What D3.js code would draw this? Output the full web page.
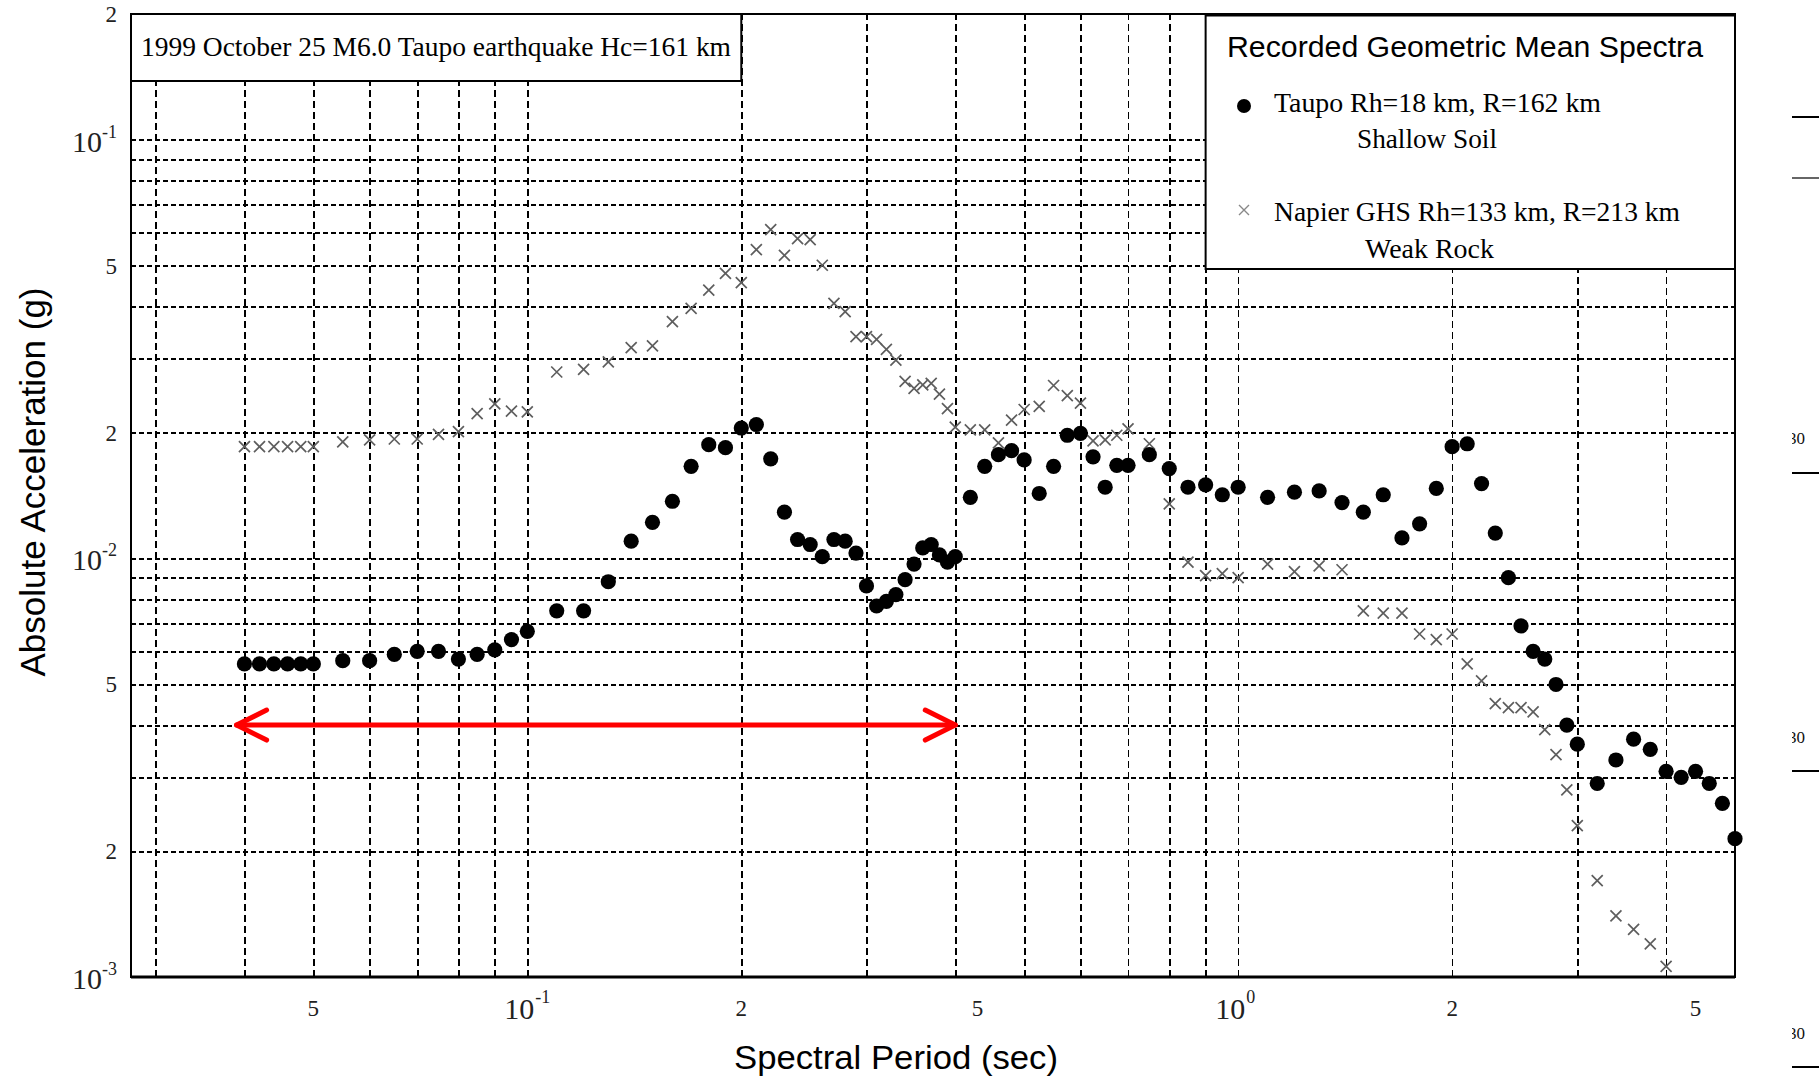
<!DOCTYPE html>
<html>
<head>
<meta charset="utf-8">
<script src="https://cdn.jsdelivr.net/npm/d3@7"></script>
<style>
  body { margin: 0; background: #fff; }
  svg { display: block; }
</style>
</head>
<body>
<svg id="chart" width="1819" height="1081"></svg>
<script>
// Spectral periods (s) shared by both records
const periods = [
  0.04, 0.042, 0.044, 0.046, 0.048, 0.05, 0.055, 0.06, 0.065, 0.07, 0.075, 0.08, 0.085, 0.09, 0.095, 0.1,
  0.11, 0.12, 0.13, 0.14, 0.15, 0.16, 0.17, 0.18, 0.19, 0.2,
  0.21, 0.22, 0.23, 0.24, 0.25, 0.26, 0.27, 0.28, 0.29, 0.3,
  0.31, 0.32, 0.33, 0.34, 0.35, 0.36, 0.37, 0.38, 0.39, 0.4,
  0.42, 0.44, 0.46, 0.48, 0.5,
  0.525, 0.55, 0.575, 0.6, 0.625, 0.65, 0.675, 0.7,
  0.75, 0.8, 0.85, 0.9, 0.95, 1.0,
  1.1, 1.2, 1.3, 1.4, 1.5, 1.6, 1.7, 1.8, 1.9, 2.0,
  2.1, 2.2, 2.3, 2.4, 2.5, 2.6, 2.7, 2.8, 2.9, 3.0,
  3.2, 3.4, 3.6, 3.8, 4.0, 4.2, 4.4, 4.6, 4.8, 5.0
];

// Taupo (shallow soil) geometric-mean spectral acceleration (g)
const taupoAccel = [
  0.0056, 0.0056, 0.0056, 0.0056, 0.0056, 0.0056, 0.0057, 0.0057, 0.0059, 0.0060, 0.0060, 0.00575, 0.0059, 0.00605, 0.0064, 0.0067,
  0.0075, 0.0075, 0.0088, 0.0110, 0.0122, 0.0137, 0.0166, 0.0187, 0.0184, 0.0205,
  0.0209, 0.0173, 0.0129, 0.0111, 0.0108, 0.0101, 0.0111, 0.0110, 0.0103, 0.0086,
  0.0077, 0.0079, 0.0082, 0.0089, 0.0097, 0.0106, 0.0108, 0.0102, 0.0098, 0.0101,
  0.0140, 0.0166, 0.0177, 0.0181, 0.0172,
  0.0143, 0.0166, 0.0197, 0.0199, 0.0175, 0.0148, 0.0167, 0.0167,
  0.0177, 0.0164, 0.0148, 0.0150, 0.0142, 0.0148,
  0.0140, 0.0144, 0.0145, 0.0136, 0.0129, 0.0142, 0.0112, 0.0121, 0.0147, 0.0185,
  0.0188, 0.0151, 0.0115, 0.0090, 0.0069, 0.0060, 0.00575, 0.0050, 0.0040, 0.0036,
  0.0029, 0.0033, 0.0037, 0.0035, 0.0031, 0.0030, 0.0031, 0.0029, 0.0026, 0.00214
];

// Napier GHS (weak rock) geometric-mean spectral acceleration (g), periods up to 4 s
const napierAccel = [
  0.0185, 0.0185, 0.0185, 0.0185, 0.0185, 0.0185, 0.0190, 0.0192, 0.0193, 0.0193, 0.0198, 0.0201, 0.0222, 0.0234, 0.0225, 0.0224,
  0.0279, 0.0283, 0.0295, 0.0319, 0.0322, 0.0368, 0.0396, 0.0438, 0.0480, 0.0456,
  0.0547, 0.0611, 0.0530, 0.0581, 0.0578, 0.0502, 0.0407, 0.0389, 0.0339, 0.0339,
  0.0334, 0.0316, 0.0298, 0.0265, 0.0255, 0.0260, 0.0262, 0.0247, 0.0228, 0.0206,
  0.0203, 0.0203, 0.0189, 0.0214, 0.0227,
  0.0231, 0.0259, 0.0245, 0.0235, 0.0191, 0.0192, 0.0197, 0.0204,
  0.0188, 0.0135, 0.0098, 0.0091, 0.0092, 0.0090,
  0.0097, 0.0093, 0.0096, 0.0094, 0.0075, 0.0074, 0.0074, 0.0066, 0.0064, 0.0066,
  0.0056, 0.0051, 0.0045, 0.0044, 0.0044, 0.0043, 0.0039, 0.0034, 0.0028, 0.0023,
  0.0017, 0.0014, 0.0013, 0.0012, 0.00106
];

// Axis tick labels: base text and superscript exponent
const yTickValues = [0.2, 0.1, 0.05, 0.02, 0.01, 0.005, 0.002, 0.001];
const yTickBase   = ["2", "10", "5", "2", "10", "5", "2", "10"];
const yTickExp    = ["", "-1", "", "", "-2", "", "", "-3"];

const xTickValues = [0.05, 0.1, 0.2, 0.43, 1, 2, 4.4];
const xTickBase   = ["5", "10", "2", "5", "10", "2", "5"];
const xTickExp    = ["", "-1", "", "", "0", "", ""];

// Grid line positions
const xGridValues = [0.03, 0.04, 0.05, 0.06, 0.07, 0.08, 0.09, 0.1,
                     0.2, 0.3, 0.4, 0.5, 0.6, 0.7, 0.8, 0.9, 1, 2, 3, 4];
const yGridValues = [0.002, 0.003, 0.004, 0.005, 0.006, 0.007, 0.008, 0.009, 0.01,
                     0.02, 0.03, 0.04, 0.05, 0.06, 0.07, 0.08, 0.09, 0.1];

// Period range highlighted by the red double arrow, and its level (g)
const arrowSpan = [0.039, 0.4];
const arrowLevel = 0.004;

const titleText = "1999 October 25 M6.0 Taupo earthquake Hc=161 km";
const legendTitle = "Recorded Geometric Mean Spectra";
const legendLines = [
  ["Taupo Rh=18 km, R=162 km", "Shallow Soil"],
  ["Napier GHS Rh=133 km, R=213 km", "Weak Rock"]
];

// ---------------------------------------------------------------
const svg = d3.select("#chart");
const L = 131, R = 1735, T = 14, B = 977;

const x = d3.scaleLog().domain([0.0277, 5]).range([L, R]);
const y = d3.scaleLog().domain([0.001, 0.2]).range([B, T]);

const serif = "'Liberation Serif', 'Times New Roman', serif";
const sans = "'Liberation Sans', Arial, sans-serif";

// Grid
const gridV = svg.append("g")
  .attr("transform", `translate(0,${B})`)
  .call(d3.axisBottom(x).tickValues(xGridValues).tickSize(-(B - T)).tickFormat(""));
gridV.select(".domain").remove();
gridV.selectAll(".tick line")
  .attr("stroke", "#000").attr("stroke-width", 1.7).attr("stroke-dasharray", "7,4")
  .attr("shape-rendering", "crispEdges");

const gridH = svg.append("g")
  .attr("transform", `translate(${L},0)`)
  .call(d3.axisLeft(y).tickValues(yGridValues).tickSize(-(R - L)).tickFormat(""));
gridH.select(".domain").remove();
gridH.selectAll(".tick line")
  .attr("stroke", "#000").attr("stroke-width", 2).attr("stroke-dasharray", "5,3")
  .attr("shape-rendering", "crispEdges");

// Title box
svg.append("rect")
  .attr("x", L).attr("y", T).attr("width", x(0.2) - L).attr("height", 67)
  .attr("fill", "#fff").attr("stroke", "#000").attr("stroke-width", 2);
svg.append("text")
  .attr("x", 141).attr("y", 56)
  .attr("font-family", serif).attr("font-size", 28)
  .attr("textLength", 590).attr("lengthAdjust", "spacingAndGlyphs")
  .text(titleText);

// Legend box
const lgX = x(0.9);
svg.append("rect")
  .attr("x", lgX).attr("y", T).attr("width", R - lgX).attr("height", 255)
  .attr("fill", "#fff").attr("stroke", "#000").attr("stroke-width", 2);
svg.append("line")
  .attr("x1", lgX).attr("x2", R).attr("y1", T + 1).attr("y2", T + 1)
  .attr("stroke", "#000").attr("stroke-width", 3);
svg.append("text")
  .attr("x", 1227).attr("y", 57)
  .attr("font-family", sans).attr("font-size", 30)
  .attr("textLength", 476).attr("lengthAdjust", "spacingAndGlyphs")
  .text(legendTitle);

svg.append("circle").attr("cx", 1244).attr("cy", 106).attr("r", 7).attr("fill", "#000");
svg.append("path")
  .attr("d", "M1239,205L1249,215M1239,215L1249,205")
  .attr("stroke", "#888").attr("stroke-width", 1.4).attr("fill", "none");

const legendText = [
  { t: legendLines[0][0], x: 1274, y: 112, w: 327 },
  { t: legendLines[0][1], x: 1357, y: 148, w: 140 },
  { t: legendLines[1][0], x: 1274, y: 221, w: 406 },
  { t: legendLines[1][1], x: 1365, y: 258, w: 129 }
];
svg.selectAll("text.lg").data(legendText).join("text")
  .attr("class", "lg")
  .attr("x", d => d.x).attr("y", d => d.y)
  .attr("font-family", serif).attr("font-size", 28)
  .attr("textLength", d => d.w).attr("lengthAdjust", "spacingAndGlyphs")
  .text(d => d.t);

// Plot frame
svg.append("rect")
  .attr("x", L).attr("y", T).attr("width", R - L).attr("height", B - T)
  .attr("fill", "none").attr("stroke", "#000").attr("stroke-width", 2);
svg.append("line")
  .attr("x1", L).attr("x2", R).attr("y1", B).attr("y2", B)
  .attr("stroke", "#000").attr("stroke-width", 3);

// Y tick labels
const yLab = svg.append("g").attr("font-family", serif).attr("fill", "#222");
yTickValues.forEach((v, i) => {
  const big = yTickBase[i] === "10";
  const t = yLab.append("text")
    .attr("x", 117).attr("y", y(v) + (big ? 12 : 8))
    .attr("text-anchor", "end")
    .attr("font-size", big ? 30 : 23);
  t.append("tspan").text(yTickBase[i]);
  if (yTickExp[i]) {
    t.append("tspan").attr("dy", -14).attr("font-size", 18).text(yTickExp[i]);
  }
});

// X tick labels
const xLab = svg.append("g").attr("font-family", serif).attr("fill", "#222");
xTickValues.forEach((v, i) => {
  const big = xTickBase[i] === "10";
  xLab.append("text")
    .attr("x", x(v) + (big ? 7 : 0)).attr("y", big ? 1019 : 1016)
    .attr("text-anchor", big ? "end" : "middle")
    .attr("font-size", big ? 30 : 23)
    .text(xTickBase[i]);
  if (xTickExp[i]) {
    xLab.append("text")
      .attr("x", x(v) + 8).attr("y", 1003)
      .attr("font-size", 18)
      .text(xTickExp[i]);
  }
});

// Axis titles
svg.append("text")
  .attr("x", 896).attr("y", 1069)
  .attr("text-anchor", "middle")
  .attr("font-family", sans).attr("font-size", 34)
  .attr("textLength", 324).attr("lengthAdjust", "spacingAndGlyphs")
  .text("Spectral Period (sec)");
svg.append("text")
  .attr("transform", "translate(45,482) rotate(-90)")
  .attr("text-anchor", "middle")
  .attr("font-family", sans).attr("font-size", 35)
  .attr("textLength", 389).attr("lengthAdjust", "spacingAndGlyphs")
  .text("Absolute Acceleration (g)");

// Red double arrow marking the period range
const ay = y(arrowLevel), ax0 = x(arrowSpan[0]), ax1 = x(arrowSpan[1]);
const arrow = svg.append("g")
  .attr("stroke", "#ff0000").attr("stroke-width", 5)
  .attr("stroke-linecap", "round").attr("stroke-linejoin", "round").attr("fill", "none");
arrow.append("line").attr("x1", ax0).attr("x2", ax1).attr("y1", ay).attr("y2", ay);
arrow.append("path").attr("d", `M${ax0 + 30},${ay - 15}L${ax0},${ay}L${ax0 + 30},${ay + 15}`);
arrow.append("path").attr("d", `M${ax1 - 30},${ay - 15}L${ax1},${ay}L${ax1 - 30},${ay + 15}`);

// Napier GHS: grey crosses
const napier = napierAccel.map((a, i) => ({ p: periods[i], a }));
svg.append("g").selectAll("path").data(napier).join("path")
  .attr("d", d => {
    const cx = x(d.p), cy = y(d.a), s = 5.5;
    return `M${cx - s},${cy - s}L${cx + s},${cy + s}M${cx - s},${cy + s}L${cx + s},${cy - s}`;
  })
  .attr("stroke", "#5e5e5e").attr("stroke-width", 1.7).attr("fill", "none");

// Taupo: filled black circles
const taupo = taupoAccel.map((a, i) => ({ p: periods[i], a }));
svg.append("g").selectAll("circle").data(taupo).join("circle")
  .attr("cx", d => x(d.p)).attr("cy", d => y(d.a)).attr("r", 7.6)
  .attr("fill", "#000");

// Fragments of the neighbouring figure at the right margin
const edge = svg.append("g");
[117, 178, 473, 771, 1067].forEach((yy, i) => {
  edge.append("line").attr("x1", 1792).attr("x2", 1819).attr("y1", yy).attr("y2", yy)
    .attr("stroke", i === 1 ? "#666" : "#000").attr("stroke-width", 2);
});
svg.append("clipPath").attr("id", "edgeclip")
  .append("rect").attr("x", 1792).attr("y", 0).attr("width", 27).attr("height", 1081);
[444, 743, 1039].forEach(yy => {
  edge.append("text").attr("x", 1788).attr("y", yy)
    .attr("clip-path", "url(#edgeclip)")
    .attr("font-family", serif).attr("font-size", 17).attr("fill", "#111")
    .text("30");
});
</script>
</body>
</html>
